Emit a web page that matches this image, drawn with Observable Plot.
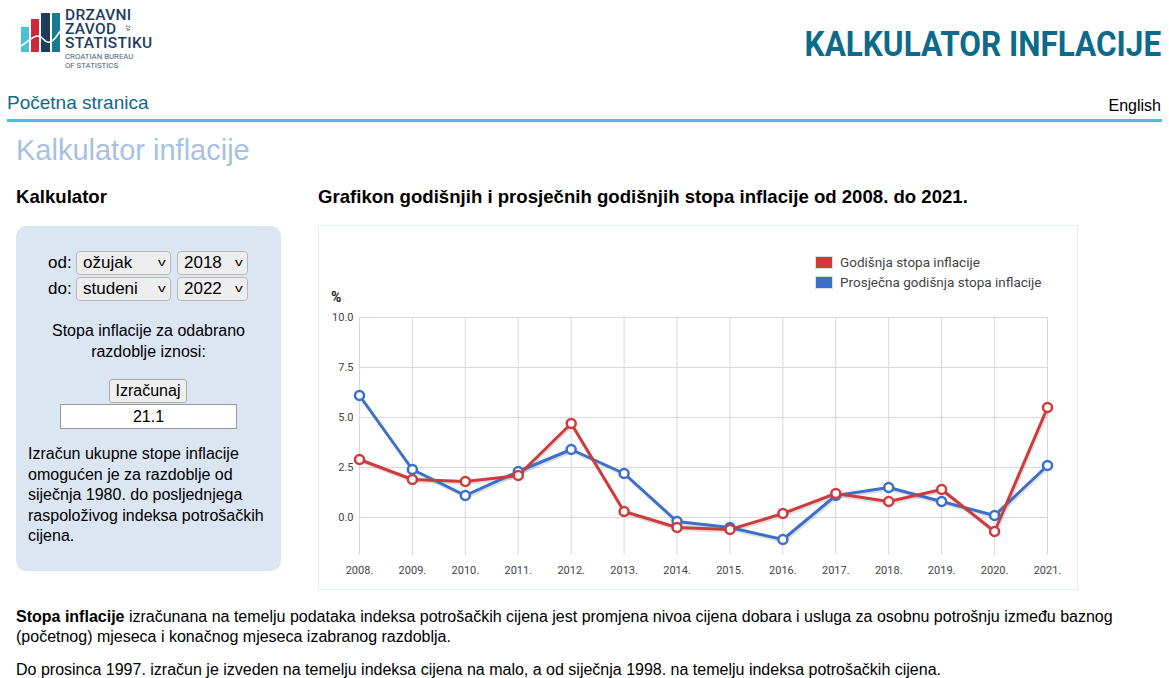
<!DOCTYPE html>
<html><head><meta charset="utf-8">
<script src="https://cdn.jsdelivr.net/npm/d3@7"></script>
<script src="https://cdn.jsdelivr.net/npm/@observablehq/plot@0.6"></script>
<style>
body{margin:0;width:1169px;height:678px;background:#fff;font-family:"Liberation Sans",Arial,sans-serif;position:relative;overflow:hidden;color:#000}
.abs{position:absolute}
#bigtitle{right:8px;top:24px;font-family:Roboto,"Liberation Sans",sans-serif;font-weight:700;font-size:35px;color:#0e6a8a;transform:scaleX(0.9);transform-origin:right center;white-space:nowrap}
#nav{left:7px;top:92px;font-size:19px;color:#0e6a8a}
#eng{right:8px;top:97px;font-size:16px}
#rule{left:7px;top:119px;width:1155px;height:3px;background:#4dbfd5}
#h1{left:16px;top:134px;font-size:29px;color:#a7c1e4}
.h2{font-size:18.6px;font-weight:700;top:186px}
#box{left:16px;top:226px;width:265px;height:345px;background:#dce6f3;border-radius:10px}
.sel{height:24px;background:#eeeeee;border:1px solid #b8b8b8;border-radius:4px;box-sizing:border-box;padding:0 6px;line-height:22px;font-size:17px;display:flex;justify-content:space-between;align-items:center}
.sel span.ch{font-size:11px;transform:scaleX(1.4) translateY(-1px)}
#chartbox{left:318px;top:225px;width:758px;height:363px;border:1px solid #e6edf5;background:#fff}
#chart{position:absolute;left:0;top:0}
.leg{font-family:Roboto,"Liberation Sans",Arial,sans-serif;font-size:13.5px;color:#444;display:flex;align-items:center}
.sw{width:16px;height:11px;border:1px solid #ddd;margin-right:7px}
.para{left:16px;font-size:16px;line-height:20px;width:1145px}
</style></head>
<body>
<!-- logo -->
<svg class="abs" style="left:18px;top:6px" width="145" height="68" viewBox="0 0 145 68">
  <rect x="3" y="21" width="8" height="25" fill="#49c2d8"/>
  <rect x="13" y="13" width="8" height="33" fill="#d0283b"/>
  <rect x="23" y="7" width="9" height="39" fill="#1d3d5c"/>
  <rect x="34" y="7" width="8" height="39" fill="#197a93"/>
  <path d="M3,40 C10,36 14,30 20,30 C26,30 26,38 32,36 C38,34 40,26 44,24" stroke="#fff" stroke-width="1.6" fill="none"/>
  <text font-family="Roboto,Liberation Sans" font-size="15.5" font-weight="500" fill="#1d3d5c" letter-spacing="0.3"><tspan x="47" y="14">DRZAVNI</tspan><tspan x="47" y="28">ZAVOD</tspan><tspan x="47" y="42">STATISTIKU</tspan></text>
  <text x="0" y="0" font-family="Roboto,Liberation Sans" font-size="5" fill="#1d3d5c" transform="translate(108,19) rotate(90)">ZA</text>
  <text font-family="Roboto,Liberation Sans" font-size="7.8" fill="#4a5f78"><tspan x="47" y="53">CROATIAN BUREAU</tspan><tspan x="47" y="62">OF STATISTICS</tspan></text>
</svg>
<div id="bigtitle" class="abs">KALKULATOR INFLACIJE</div>
<div id="nav" class="abs">Početna stranica</div>
<div id="eng" class="abs">English</div>
<div id="rule" class="abs"></div>
<div id="h1" class="abs">Kalkulator inflacije</div>
<div class="abs h2" style="left:16px">Kalkulator</div>
<div class="abs h2" style="left:318px">Grafikon godišnjih i prosječnih godišnjih stopa inflacije od 2008. do 2021.</div>

<div id="box" class="abs"></div>
<div class="abs" style="left:48px;top:253px;font-size:17px">od:</div>
<div class="abs sel" style="left:76px;top:251px;width:95px"><span>ožujak</span><span class="ch">v</span></div>
<div class="abs sel" style="left:177px;top:251px;width:71px"><span>2018</span><span class="ch">v</span></div>
<div class="abs" style="left:48px;top:279px;font-size:17px">do:</div>
<div class="abs sel" style="left:76px;top:277px;width:95px"><span>studeni</span><span class="ch">v</span></div>
<div class="abs sel" style="left:177px;top:277px;width:71px"><span>2022</span><span class="ch">v</span></div>
<div class="abs" style="left:16px;top:320px;width:265px;text-align:center;font-size:16px;line-height:21px">Stopa inflacije za odabrano<br>razdoblje iznosi:</div>
<div class="abs" style="left:109px;top:379px;width:78px;height:24px;box-sizing:border-box;border:1px solid #aaa;border-radius:3px;background:#efefef;font-size:16px;text-align:center;line-height:22px">Izračunaj</div>
<div class="abs" style="left:60px;top:404px;width:177px;height:25px;box-sizing:border-box;border:1px solid #999;background:#fff;font-size:16px;text-align:center;line-height:23px">21.1</div>
<div class="abs" style="left:28px;top:444px;width:245px;font-size:16px;line-height:20.5px">Izračun ukupne stope inflacije omogućen je za razdoblje od siječnja 1980. do posljednjega raspoloživog indeksa potrošačkih cijena.</div>

<div id="chartbox" class="abs"><div id="chart"></div><div id="legend" class="abs" style="left:496px;top:26px"></div>
<div class="abs" style="left:12px;top:63px;font-family:Roboto,'Liberation Sans',Arial;font-size:14px;font-weight:700;color:#222">%</div></div>

<div class="abs para" style="top:607px"><span style="font-weight:700">Stopa inflacije</span> izračunana na temelju podataka indeksa potrošačkih cijena jest promjena nivoa cijena dobara i usluga za osobnu potrošnju između baznog (početnog) mjeseca i konačnog mjeseca izabranog razdoblja.</div>
<div class="abs para" style="top:660px">Do prosinca 1997. izračun je izveden na temelju indeksa cijena na malo, a od siječnja 1998. na temelju indeksa potrošačkih cijena.</div>

<script>
const years = [2008,2009,2010,2011,2012,2013,2014,2015,2016,2017,2018,2019,2020,2021];
const annualRate = [2.9,1.9,1.8,2.1,4.7,0.3,-0.5,-0.6,0.2,1.2,0.8,1.4,-0.7,5.5];
const averageRate = [6.1,2.4,1.1,2.3,3.4,2.2,-0.2,-0.5,-1.1,1.1,1.5,0.8,0.1,2.6];
const seriesNames = ["Godišnja stopa inflacije","Prosječna godišnja stopa inflacije"];
const seriesColors = ["#cf3a3a","#3b6fc9"];
const yTicks = [0,2.5,5,7.5,10];

const rows = [];
years.forEach((y,i)=>{
  rows.push({year:y, value:annualRate[i], series:seriesNames[0]});
  rows.push({year:y, value:averageRate[i], series:seriesNames[1]});
});
const order = [seriesNames[1], seriesNames[0]];
const data = [...rows.filter(d=>d.series===order[0]), ...rows.filter(d=>d.series===order[1])];

const chart = Plot.plot({
  width: 758, height: 363,
  marginLeft: 40, marginRight: 30, marginTop: 91, marginBottom: 34,
  style: {fontFamily: "Roboto, 'Liberation Sans', Arial, sans-serif", fontSize: "11px", color: "#444", background: "transparent"},
  x: {domain: [2008, 2021], ticks: years, tickFormat: d => d + ".", tickSize: 0, tickPadding: 11, label: null},
  y: {domain: [-1.9, 10], ticks: yTicks, tickFormat: d3.format(".1f"), tickSize: 0, tickPadding: 6, label: null},
  color: {domain: seriesNames, range: seriesColors},
  marks: [
    Plot.gridX(years, {stroke: "#d9d9d9", strokeOpacity: 1, strokeWidth: 1}),
    Plot.gridY(yTicks, {stroke: "#d9d9d9", strokeOpacity: 1, strokeWidth: 1}),
    Plot.axisX({ticks: years, tickFormat: d => d + ".", tickSize: 0, tickPadding: 11, fill: "#444"}),
    Plot.axisY({ticks: yTicks, tickFormat: d3.format(".1f"), tickSize: 0, tickPadding: 6, fill: "#444"}),
    Plot.line(data, {x: "year", y: "value", z: "series", stroke: "#000", strokeOpacity: 0.12, strokeWidth: 3, dy: 2, dx: 1}),
    Plot.line(data, {x: "year", y: "value", z: "series", stroke: "series", strokeWidth: 3}),
    Plot.dot(data, {x: "year", y: "value", stroke: "series", fill: "#fff", r: 4.5, strokeWidth: 2.5})
  ]
});
document.getElementById("chart").appendChild(chart);

const leg = document.getElementById("legend");
seriesNames.forEach((n,i)=>{
  const r = document.createElement("div");
  r.className = "leg";
  r.style.height = "20px";
  r.innerHTML = `<div class="sw" style="background:${seriesColors[i]}"></div><span>${n}</span>`;
  leg.appendChild(r);
});
</script>
</body></html>
